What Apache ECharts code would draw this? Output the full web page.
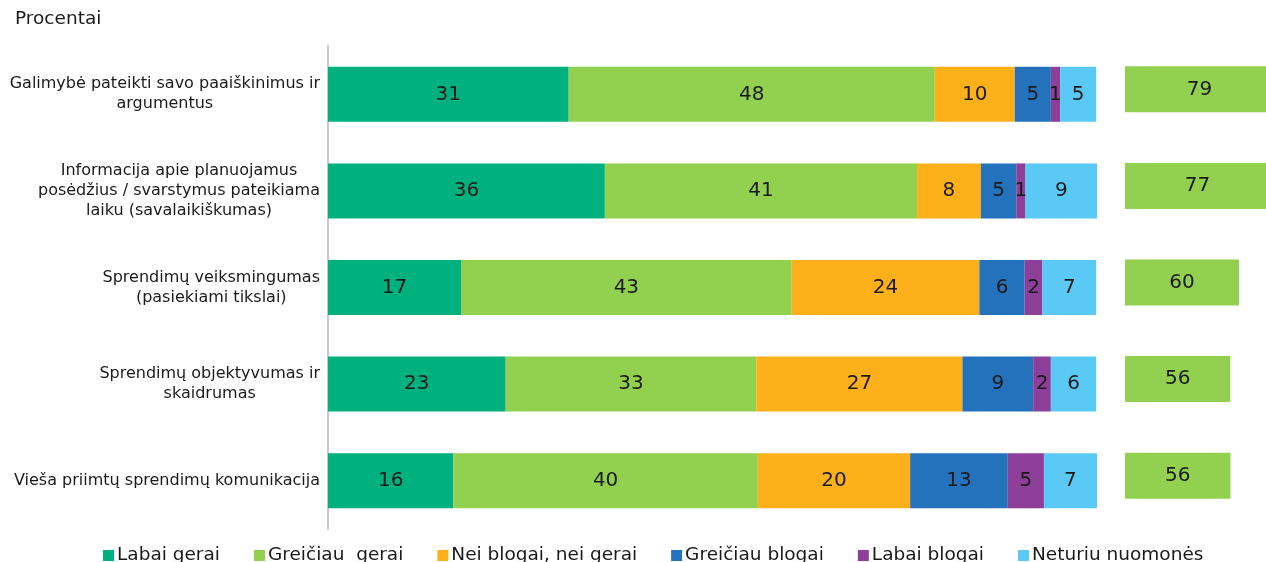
<!DOCTYPE html>
<html>
<head>
    <meta charset="utf-8">
    <title>Procentai</title>
    <script src="https://cdn.jsdelivr.net/npm/echarts@6/dist/echarts.min.js"></script>
    <style>
        body { margin: 0; background: #fff; }
    </style>
</head>
<body>
    <div id="main" style="width:1266px; height:562px"></div>
    <script type="text/javascript">
        // kategorijos (iš viršaus į apačią)
        var categories = [
            'Galimybė pateikti savo paaiškinimus ir\nargumentus',
            'Informacija apie planuojamus\nposėdžius / svarstymus pateikiama\nlaiku (savalaikiškumas)',
            'Sprendimų veiksmingumas\n(pasiekiami tikslai)',
            'Sprendimų objektyvumas ir\nskaidrumas',
            'Vieša priimtų sprendimų komunikacija'
        ];
        var seriesNames = ['Labai gerai', 'Greičiau  gerai', 'Nei blogai, nei gerai',
                           'Greičiau blogai', 'Labai blogai', 'Neturiu nuomonės'];

        var labaiGerai     = [31.3, 36.0, 17.3, 23.1, 16.3];
        var greiciauGerai  = [47.6, 40.6, 43.0, 32.6, 39.6];
        var neiBlogaiNei   = [10.4, 8.3, 24.4, 26.8, 19.8];
        var greiciauBlogai = [4.7, 4.6, 5.9, 9.2, 12.7];
        var labaiBlogai    = [1.2, 1.2, 2.3, 2.3, 4.7];
        var neturiu        = [4.7, 9.4, 7.0, 5.9, 7.0];
        // teigiami vertinimai (dešinysis stulpelis)
        var teigiami       = [78.9, 76.6, 60.3, 55.7, 55.8];

        var colors = ['#00b17f', '#92d050', '#fdb01a', '#2472bc', '#8e3f9a', '#5bc9f5'];
        var font = 'DejaVu Sans';

        var chart = echarts.init(document.getElementById('main'));

        var barLabel = {
            show: true,
            position: 'inside',
            fontFamily: font,
            fontSize: 20,
            color: '#1a1a1a',
            formatter: function (p) { return Math.round(p.value); }
        };

        var values = [labaiGerai, greiciauGerai, neiBlogaiNei, greiciauBlogai, labaiBlogai, neturiu];
        var series = [];
        for (var i = 0; i < values.length; ++i) {
            series.push({
                name: seriesNames[i],
                type: 'bar',
                stack: 'visi',
                xAxisIndex: 0,
                yAxisIndex: 0,
                barWidth: 55,
                data: values[i],
                itemStyle: { color: colors[i] },
                label: barLabel
            });
        }
        // dešinysis stulpelis išeina už paveikslo krašto
        series.push({
            type: 'bar',
            xAxisIndex: 1,
            yAxisIndex: 1,
            barWidth: 46,
            clip: false,
            data: teigiami,
            itemStyle: { color: '#92d050' },
            label: barLabel
        });

        var option = {
            animation: false,
            title: {
                text: 'Procentai',
                left: 10,
                top: 5,
                textStyle: { fontFamily: font, fontSize: 18.5, fontWeight: 'normal', color: '#1a1a1a' }
            },
            legend: {
                data: seriesNames,
                left: 98,
                top: 541,
                icon: 'rect',
                itemWidth: 11,
                itemHeight: 11,
                itemGap: 34,
                textStyle: { fontFamily: font, fontSize: 18.5, color: '#1a1a1a', padding: [0, 0, 0, -2] }
            },
            grid: [
                { left: 328, width: 769, top: 46, height: 483 },
                { left: 1125, right: 0, top: 41, height: 483 }
            ],
            xAxis: [
                { gridIndex: 0, type: 'value', min: 0, max: 100, show: false },
                { gridIndex: 1, type: 'value', min: 0, max: 74.6, show: false }
            ],
            yAxis: [
                {
                    gridIndex: 0,
                    type: 'category',
                    inverse: true,
                    data: categories,
                    axisLine: { show: true, lineStyle: { color: '#c8c8c8', width: 2 } },
                    axisTick: { show: false },
                    axisLabel: {
                        margin: 8,
                        align: 'right',
                        formatter: function (v) {
                            return v.split('\n').map(function (l) { return '{c|' + l + '}'; }).join('\n');
                        },
                        rich: {
                            c: { align: 'center', fontFamily: font, fontSize: 16, lineHeight: 20, color: '#1a1a1a' }
                        }
                    }
                },
                {
                    gridIndex: 1,
                    type: 'category',
                    inverse: true,
                    data: categories,
                    show: false
                }
            ],
            series: series
        };

        chart.setOption(option);
    </script>
</body>
</html>
